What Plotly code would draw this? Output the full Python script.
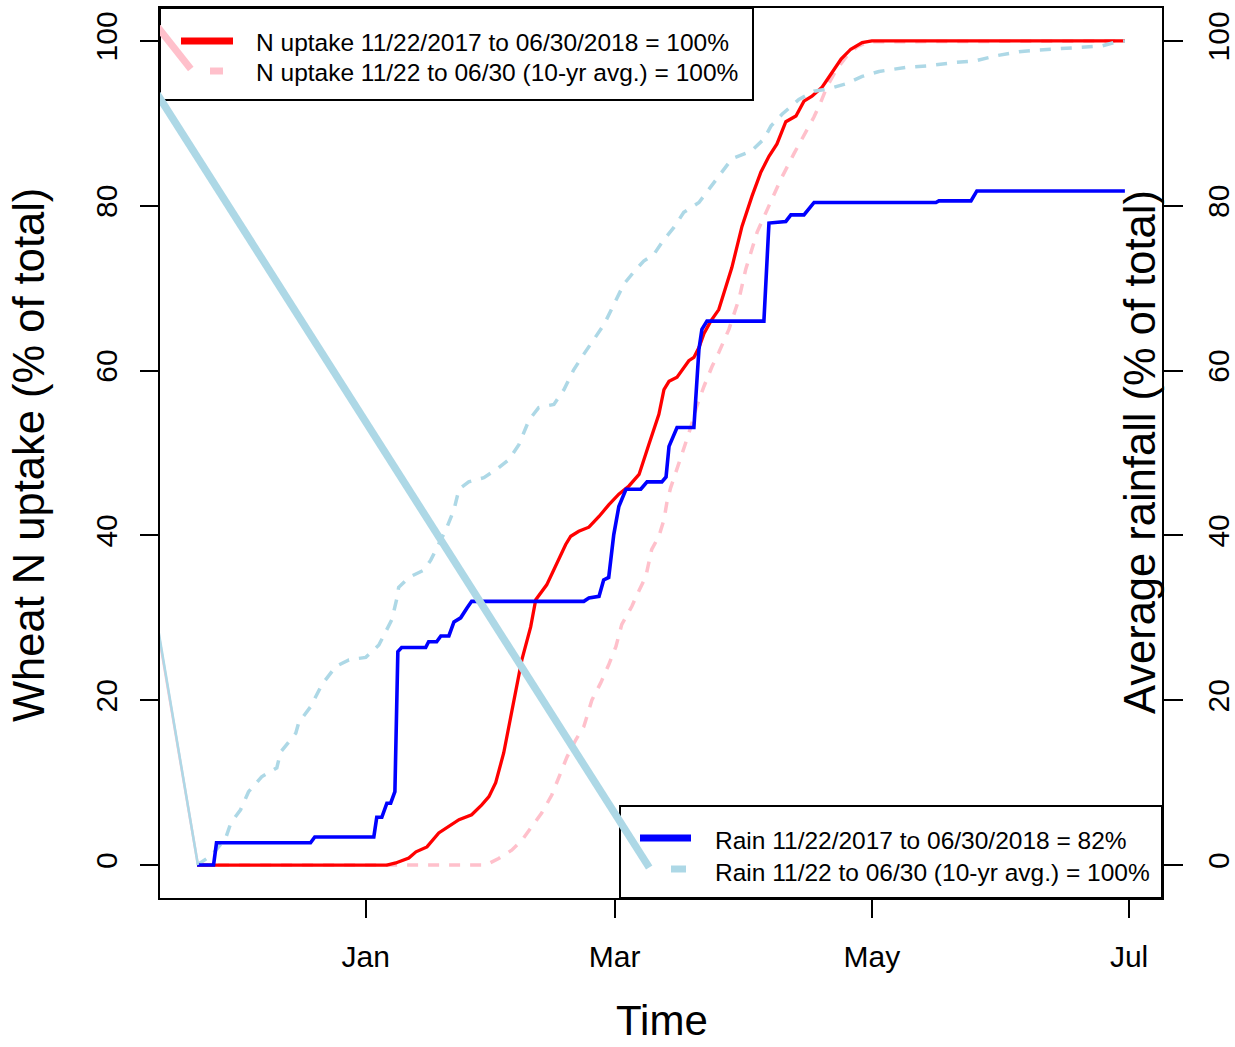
import pandas as pd
import plotly.graph_objects as go

START = pd.Timestamp("2017-11-22")

# ---------------- data (days since 11/22/2017, % of total) ----------------
n_2018_days = [0, 45.0, 47.1, 50.2, 51.9, 54.5, 57.3, 59.2, 62.1, 65.1, 67.5, 69.2, 70.8,
               72.7, 73.9, 75.6, 77.0, 79.1, 80.3, 82.9, 85.1, 87.4, 88.6, 90.5, 92.9,
               95.3, 97.6, 100.0, 102.4, 104.8, 107.1, 108.3, 109.5, 110.7, 111.9, 113.8,
               115.4, 116.6, 117.8, 119.0, 120.2, 121.8, 123.7, 124.9, 126.8, 129.2,
               131.6, 133.7, 135.6, 137.5, 139.6, 142.0, 143.9, 145.8, 148.2, 149.8,
               152.7, 155.0, 157.7, 160.0, 220]
n_2018_vals = [0, 0, 0.25, 0.85, 1.6, 2.2, 3.9, 4.5, 5.5, 6.1, 7.3, 8.3, 10.0,
               13.6, 16.8, 21.6, 24.9, 28.9, 32.2, 34.0, 36.5, 38.9, 39.9, 40.5, 41.0,
               42.3, 43.7, 45.0, 46.0, 47.4, 51.0, 52.9, 54.7, 57.7, 58.7, 59.2,
               60.4, 61.2, 61.6, 62.8, 64.5, 66.0, 67.4, 69.3, 72.5, 77.5,
               81.2, 84.1, 86.0, 87.5, 90.2, 90.9, 92.7, 93.3, 94.4, 95.6,
               97.8, 99.0, 99.8, 100, 100]

n_avg_days = [0, 68.5, 71.5, 74.6, 77.0, 79.4, 81.7, 84.1, 85.8, 87.7, 89.8, 91.7, 93.6,
              95.7, 97.6, 99.3, 100.7, 103.1, 104.3, 106.4, 107.8, 109.5, 110.7, 111.4,
              112.3, 113.5, 114.7, 115.9, 117.1, 118.5, 120.2, 122.1, 123.7, 126.1,
              128.5, 130.1, 132.8, 135.6, 138.4, 141.5, 144.4, 146.3, 147.9, 149.4,
              151.7, 154.1, 156.5, 159.3, 220]
n_avg_vals = [0, 0, 0.8, 1.8, 3.0, 4.6, 6.3, 8.5, 10.7, 13.1, 15.2, 16.8, 20.0,
              22.1, 24.3, 26.5, 29.2, 31.4, 32.8, 35.0, 38.3, 39.9, 41.9, 44.0,
              45.8, 47.6, 49.2, 51.3, 53.2, 55.7, 58.1, 60.5, 62.2, 65.0,
              68.7, 72.3, 76.8, 80.0, 83.2, 86.3, 88.9, 90.8, 92.6, 94.5,
              96.6, 98.2, 99.3, 99.9, 100]

rain_2018_days = [0, 3.9, 4.6, 26.9, 27.9, 41.9, 42.6, 43.8, 45.0, 45.9, 46.9, 47.6, 48.5,
                  54.2, 54.9, 56.8, 57.8, 59.7, 60.9, 62.5, 64.0, 65.1, 91.7, 92.9, 95.3,
                  96.4, 97.6, 98.8, 100.0, 101.7, 105.2, 106.7, 110.2, 111.2, 111.9, 113.8,
                  117.8, 119.0, 119.7, 120.9, 134.4, 135.1, 135.6, 139.6, 140.8, 143.9,
                  146.3, 175.2, 175.9, 183.5, 184.9, 220]
rain_2018_vals = [0, 0, 2.7, 2.7, 3.4, 3.4, 5.8, 5.8, 7.5, 7.5, 8.9, 25.9, 26.4,
                  26.4, 27.1, 27.1, 27.8, 27.8, 29.5, 30.0, 31.2, 32.0, 32.0, 32.4, 32.6,
                  34.6, 34.9, 40.1, 43.5, 45.6, 45.6, 46.5, 46.5, 47.1, 50.8, 53.1,
                  53.1, 62.6, 65.0, 66.0, 66.0, 72.5, 77.9, 78.1, 78.9, 78.9,
                  80.4, 80.4, 80.6, 80.6, 81.8, 81.8]

rain_avg_days = [0, 3.5, 6.8, 8.0, 10.3, 12.2, 15.3, 18.9, 19.8, 23.4, 24.1, 26.9, 29.6,
                 32.9, 36.0, 40.0, 43.1, 46.2, 47.3, 47.8, 50.2, 53.8, 55.4, 57.3, 59.0,
                 60.9, 62.1, 64.4, 68.0, 71.5, 73.9, 76.3, 78.7, 81.0, 84.6, 87.0, 89.3,
                 91.7, 94.1, 96.5, 98.8, 101.2, 103.6, 105.9, 108.3, 110.7, 113.1, 115.4,
                 119.0, 123.7, 126.8, 131.3, 134.4, 136.1, 138.7, 142.7, 146.3, 149.8,
                 153.9, 157.7, 161.7, 168.1, 173.6, 180.0, 184.7, 189.4, 194.9, 202.7,
                 209.8, 214.6, 218.1, 220]
rain_avg_vals = [0, 1.2, 3.3, 5.1, 6.7, 8.9, 10.7, 11.8, 13.7, 16.0, 17.3, 19.2, 21.9,
                 24.1, 24.9, 25.2, 26.7, 29.8, 32.2, 33.7, 34.9, 35.8, 37.0, 38.9, 40.7,
                 43.1, 45.6, 46.5, 47.0, 48.2, 49.2, 51.0, 54.0, 55.5, 55.9, 57.7, 60.1,
                 62.0, 63.8, 65.6, 68.0, 70.5, 72.0, 73.3, 74.1, 75.9, 77.4, 79.2,
                 80.4, 83.6, 85.7, 86.6, 88.1, 89.7, 91.1, 92.9, 93.9, 94.2,
                 94.8, 95.7, 96.3, 96.8, 97.0, 97.4, 97.6, 98.2, 98.7, 99.0,
                 99.3, 99.4, 99.9, 100]

# stray connector segments visible in the original figure
pink_thin_days, pink_thin_vals = [-12, 0.2], [36.6, 0]
lb_thin_days, lb_thin_vals = [-12, 0.2], [37.0, 0]
pink_thick_days, pink_thick_vals = [-12, -1.5], [103.4, 96.6]
lb_thick_days, lb_thick_vals = [-12, 107.2], [95.6, -0.3]

x_tick_dates = ["2018-01-01", "2018-03-01", "2018-05-01", "2018-07-01"]
x_tick_text = ["Jan", "Mar", "May", "Jul"]
y_ticks = [0, 20, 40, 60, 80, 100]

legend1_labels = ["N uptake 11/22/2017 to 06/30/2018 = 100%",
                  "N uptake 11/22 to 06/30 (10-yr avg.) = 100%"]
legend2_labels = ["Rain 11/22/2017 to 06/30/2018 = 82%",
                  "Rain 11/22 to 06/30 (10-yr avg.) = 100%"]


def to_dates(days):
    return START + pd.to_timedelta(days, unit="D")


FONT = "Liberation Sans, Arial, sans-serif"
W, H = 1235, 1047
L, R, T, B = 160, 1162, 8, 898


def px(xp):
    return (xp - L) / (R - L)


def py(yp):
    return (B - yp) / (B - T)


DASH = "11px,10px"
fig = go.Figure()

fig.add_trace(go.Scatter(x=to_dates(n_avg_days), y=n_avg_vals, mode="lines",
                         line=dict(color="pink", width=3.5, dash=DASH), yaxis="y"))
fig.add_trace(go.Scatter(x=to_dates(n_2018_days), y=n_2018_vals, mode="lines",
                         line=dict(color="red", width=3.3), yaxis="y"))
fig.add_trace(go.Scatter(x=to_dates(pink_thin_days), y=pink_thin_vals, mode="lines",
                         line=dict(color="pink", width=2.5), yaxis="y"))
fig.add_trace(go.Scatter(x=to_dates(pink_thick_days), y=pink_thick_vals, mode="lines",
                         line=dict(color="pink", width=7), yaxis="y"))
fig.add_trace(go.Scatter(x=to_dates(rain_avg_days), y=rain_avg_vals, mode="lines",
                         line=dict(color="lightblue", width=3.5, dash=DASH), yaxis="y2"))
fig.add_trace(go.Scatter(x=to_dates(rain_2018_days), y=rain_2018_vals, mode="lines",
                         line=dict(color="blue", width=3.6), yaxis="y2"))
fig.add_trace(go.Scatter(x=to_dates(lb_thin_days), y=lb_thin_vals, mode="lines",
                         line=dict(color="lightblue", width=2.5), yaxis="y2"))
fig.add_trace(go.Scatter(x=to_dates(lb_thick_days), y=lb_thick_vals, mode="lines",
                         line=dict(color="lightblue", width=7.5), yaxis="y2"))

tickfont = dict(family=FONT, size=30, color="black")
xrange = [START - pd.Timedelta(days=8.8), START + pd.Timedelta(days=220 + 8.8)]

fig.update_layout(
    width=W, height=H,
    margin=dict(l=L, r=W - R, t=T, b=H - B, autoexpand=False),
    plot_bgcolor="white", paper_bgcolor="white",
    showlegend=False,
    xaxis=dict(type="date", range=xrange, tickvals=x_tick_dates, ticktext=x_tick_text,
               ticks="outside", ticklen=18, tickwidth=1.5, tickcolor="black",
               showline=True, linecolor="black", linewidth=2, mirror=True,
               showgrid=False, zeroline=False, tickfont=tickfont, ticklabelstandoff=13),
    yaxis=dict(range=[-4, 104], tickvals=y_ticks, ticks="outside", ticklen=18,
               tickwidth=1.5, tickcolor="black", showline=True, linecolor="black",
               linewidth=2, mirror=True, showgrid=False, zeroline=False,
               tickfont=tickfont, tickangle=-90, ticklabelstandoff=11),
    yaxis2=dict(range=[-4, 104], tickvals=y_ticks, overlaying="y", side="right",
                ticks="outside", ticklen=20, tickwidth=1.5, tickcolor="black",
                showline=False, showgrid=False, zeroline=False,
                tickfont=tickfont, tickangle=-90, ticklabelstandoff=10),
)

shapes = []
# legend boxes
shapes.append(dict(type="rect", xref="paper", yref="paper", x0=px(160), x1=px(753),
                   y0=py(100), y1=py(8), line=dict(color="black", width=2), layer="below"))
shapes.append(dict(type="rect", xref="paper", yref="paper", x0=px(620), x1=px(1162),
                   y0=py(898), y1=py(806), line=dict(color="black", width=2), layer="below"))
# legend samples
shapes.append(dict(type="line", xref="paper", yref="paper", x0=px(181), x1=px(233),
                   y0=py(41), y1=py(41), line=dict(color="red", width=7)))
shapes.append(dict(type="line", xref="paper", yref="paper", x0=px(210), x1=px(223),
                   y0=py(71), y1=py(71), line=dict(color="pink", width=7)))
shapes.append(dict(type="line", xref="paper", yref="paper", x0=px(640), x1=px(691),
                   y0=py(838), y1=py(838), line=dict(color="blue", width=7)))
shapes.append(dict(type="line", xref="paper", yref="paper", x0=px(671), x1=px(686),
                   y0=py(869), y1=py(869), line=dict(color="lightblue", width=7)))
fig.update_layout(shapes=shapes)

ann = []
lf = dict(family=FONT, size=24.5, color="black")
for i, t in enumerate(legend1_labels):
    ann.append(dict(text=t, xref="paper", yref="paper", x=px(254), y=py([43, 73][i]),
                    xanchor="left", yanchor="middle", showarrow=False, font=lf))
for i, t in enumerate(legend2_labels):
    ann.append(dict(text=t, xref="paper", yref="paper", x=px(713), y=py([840, 872][i]),
                    xanchor="left", yanchor="middle", showarrow=False, font=lf))
tf = dict(family=FONT, size=42, color="black")
ann.append(dict(text="Time", xref="paper", yref="paper", x=px(662), y=py(1021),
                xanchor="center", yanchor="middle", showarrow=False, font=tf))
ann.append(dict(text="Wheat N uptake (% of total)", xref="paper", yref="paper",
                x=px(29), y=py(455), xanchor="center", yanchor="middle",
                textangle=-90, showarrow=False, font=dict(family=FONT, size=43.5, color="black")))
ann.append(dict(text="Average rainfall (% of total)", xref="paper", yref="paper",
                x=px(1140), y=py(452), xanchor="center", yanchor="middle",
                textangle=-90, showarrow=False, font=dict(family=FONT, size=43.5, color="black")))
fig.update_layout(annotations=ann)

fig.write_html("out.html", config={"displayModeBar": False},
               post_script="document.body.style.margin='0px';")
